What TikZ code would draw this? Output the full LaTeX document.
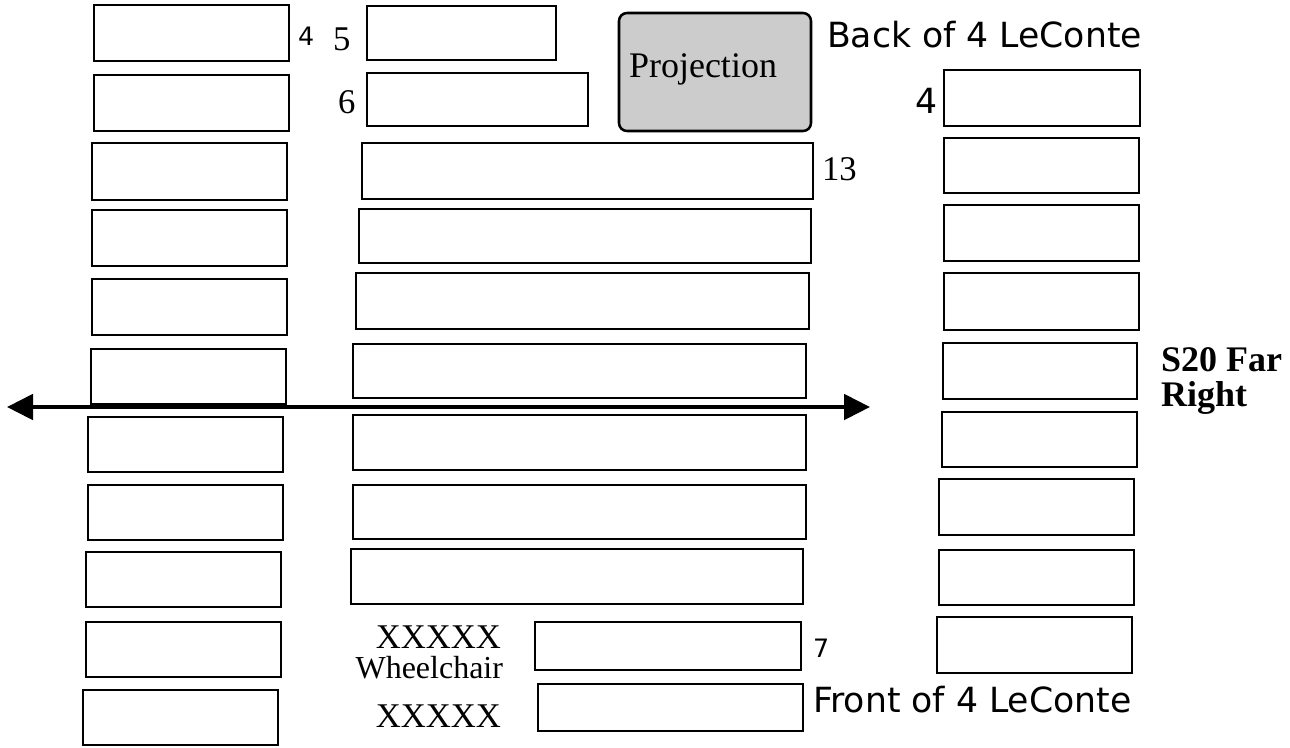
\documentclass[tikz,border=0pt]{standalone}
\usepackage{fontspec}
\setmainfont{Liberation Serif}
\newfontfamily\sansf{DejaVu Sans}
\usetikzlibrary{fit,arrows.meta}
\tikzset{
  seat/.style={draw=black, line width=1.9pt, inner sep=0pt, fill=white},
  proj/.style={draw=black, line width=1.9pt, inner sep=0pt, fill=black!20, rounded corners=6pt},
  lbl/.style={inner sep=0pt, outer sep=0pt},
  serifL/.style={lbl, font=\fontsize{26pt}{26pt}\selectfont},
  sansL/.style={lbl, font=\sansf\fontsize{26pt}{26pt}\selectfont},
  sansS/.style={lbl, font=\sansf\fontsize{19pt}{19pt}\selectfont},
  boldL/.style={lbl, font=\bfseries\fontsize{27pt}{27pt}\selectfont},
  divider/.style={line width=3pt, -{Triangle[length=19.5pt,width=19pt]}}
}
\begin{document}
\begin{tikzpicture}[x=0.75pt,y=-0.75pt]
\useasboundingbox (0,0) rectangle (1290,747);
% left column
\node[seat, fit={(94,5)(289,61)}] (L1) {};
\node[seat, fit={(94,75)(289,131)}] (L2) {};
\node[seat, fit={(92,143)(287,200)}] (L3) {};
\node[seat, fit={(92,210)(287,266)}] (L4) {};
\node[seat, fit={(92,279)(287,335)}] (L5) {};
\node[seat, fit={(91,349)(286,404)}] (L6) {};
\node[seat, fit={(88,417)(283,472)}] (L7) {};
\node[seat, fit={(88,485)(283,540)}] (L8) {};
\node[seat, fit={(86,552)(281,607)}] (L9) {};
\node[seat, fit={(86,622)(281,677)}] (L10) {};
\node[seat, fit={(83,690)(278,745)}] (L11) {};
% middle column
\node[seat, fit={(367,6)(556,60)}] (M1) {};
\node[seat, fit={(367,73)(588,126)}] (M2) {};
\node[seat, fit={(362,143)(813,199)}] (M3) {};
\node[seat, fit={(359,209)(811,263)}] (M4) {};
\node[seat, fit={(356,273)(809,329)}] (M5) {};
\node[seat, fit={(353,344)(806,398)}] (M6) {};
\node[seat, fit={(353,415)(806,470)}] (M7) {};
\node[seat, fit={(353,485)(806,539)}] (M8) {};
\node[seat, fit={(351,549)(803,604)}] (M9) {};
\node[seat, fit={(535,622)(801,670)}] (M10) {};
\node[seat, fit={(538,684)(803,731)}] (M11) {};
% right column
\node[seat, fit={(944,70)(1140,126)}] (R1) {};
\node[seat, fit={(944,138)(1139,193)}] (R2) {};
\node[seat, fit={(944,205)(1139,261)}] (R3) {};
\node[seat, fit={(944,273)(1139,330)}] (R4) {};
\node[seat, fit={(943,343)(1137,399)}] (R5) {};
\node[seat, fit={(942,412)(1137,467)}] (R6) {};
\node[seat, fit={(939,479)(1134,535)}] (R7) {};
\node[seat, fit={(939,550)(1134,605)}] (R8) {};
\node[seat, fit={(937,617)(1132,673)}] (R9) {};
% projection
\node[proj, fit={(619,13)(811,131)}] (P) {};
\node[lbl, font=\fontsize{27pt}{27pt}\selectfont, anchor=base] (Ptxt) at (703,77) {Projection};
% labels
\node[sansS, anchor=base west] (n4a) at (298,45) {4};
\node[serifL, anchor=base west] (n5) at (333,50) {5};
\node[serifL, anchor=base west] (n6) at (338,113) {6};
\node[serifL, anchor=base west] (n13) at (822,180) {13};
\node[sansL, anchor=base west] (back) at (827,47) {Back of 4 LeConte};
\node[sansL, anchor=base west] (n4b) at (915,113) {4};
\node[boldL, anchor=base west] (s20a) at (1161,371) {S20 Far};
\node[boldL, anchor=base west] (s20b) at (1161,406) {Right};
\node[sansS, anchor=base west] (n7) at (813,657) {7};
\node[sansL, anchor=base west] (front) at (813,712) {Front of 4 LeConte};
\node[serifL, anchor=base east] (x1) at (501,648) {XXXXX};
\node[lbl, font=\fontsize{24pt}{24pt}\selectfont, anchor=base east] (wc) at (503,678) {Wheelchair};
\node[serifL, anchor=base east] (x2) at (501,727) {XXXXX};
% divider arrow
\coordinate (aL) at (7,407);
\coordinate (aR) at (870,407);
\coordinate (aM) at (440,407);
\draw[divider] (aM) -- (aL);
\draw[divider] (aM) -- (aR);
\end{tikzpicture}
\end{document}
